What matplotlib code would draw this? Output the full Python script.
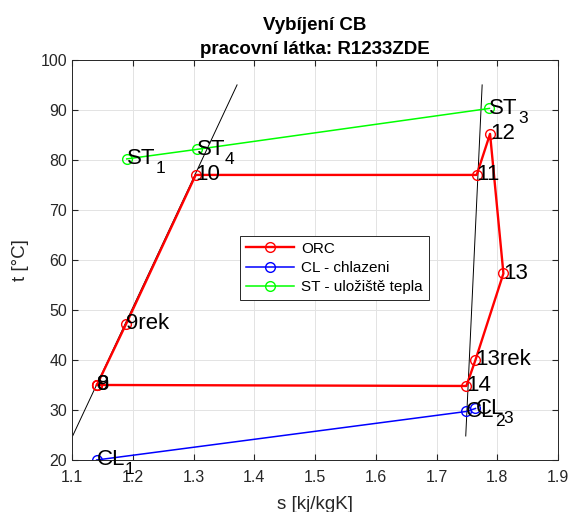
import matplotlib
matplotlib.use("Agg")
import matplotlib.pyplot as plt

plt.rcParams['font.family'] = ['Liberation Sans', 'DejaVu Sans']

# ORC cycle points 8 -> 9 -> 9rek -> 10 -> 11 -> 12 -> 13 -> 13rek -> 14 -> 8
orc_s = [1.141, 1.141, 1.189, 1.3036, 1.766, 1.788, 1.810, 1.764, 1.749, 1.141]
orc_t = [35.0, 35.0, 47.2, 77.0, 77.0, 85.2, 57.3, 40.0, 34.8, 35.0]
orc_lab = ['8', '9', '9rek', '10', '11', '12', '13', '13rek', '14']

# cooling
cl_s = [1.1406, 1.749, 1.764]
cl_t = [20.0, 29.7, 30.3]
cl_sub = ['1', '2', '3']

# heat storage
st_s = [1.190, 1.305, 1.787]
st_t = [80.2, 82.1, 90.3]
st_sub = ['1', '4', '3']

# saturation lines
liq_s = [1.101, 1.3716]
liq_t = [24.8, 95.0]
vap_s = [1.748, 1.775]
vap_t = [24.8, 95.0]

fig = plt.figure(figsize=(5.73, 5.12), dpi=100)
ax = fig.add_axes([0.1257, 0.1016, 0.8483, 0.7814])

ax.plot(liq_s, liq_t, color='black', lw=0.7)
ax.plot(vap_s, vap_t, color='black', lw=0.7)

ax.plot(orc_s, orc_t, '-o', color='red', lw=1.7, mfc='none', ms=7, mew=1.0, label='ORC')
ax.plot(cl_s, cl_t, '-o', color='blue', lw=1.1, mfc='none', ms=7, mew=1.0, label='CL - chlazeni')
ax.plot(st_s, st_t, '-o', color='#00ff00', lw=1.1, mfc='none', ms=7, mew=1.0, label='ST - uložiště tepla')

LAB = 16
SUB = 12.5
for s, t, lab in zip(orc_s, orc_t, orc_lab):
    ax.text(s, t, lab, fontsize=LAB, ha='left', va='center')

# base text + subscript (MATLAB tex style)
fig.canvas.draw()
renderer = fig.canvas.get_renderer()
for base, ss, ts, subs in [('CL', cl_s, cl_t, cl_sub), ('ST', st_s, st_t, st_sub)]:
    for s, t, sub in zip(ss, ts, subs):
        txt = ax.text(s, t, base, fontsize=LAB, ha='left', va='center')
        w = txt.get_window_extent(renderer).width * 72.0 / fig.dpi
        ax.annotate(sub, xy=(s, t), xytext=(w, -7), textcoords='offset points',
                    fontsize=SUB, ha='left', va='center')

ax.set_xlim(1.1, 1.9)
ax.set_ylim(20, 100)
ax.set_xticks([1.1, 1.2, 1.3, 1.4, 1.5, 1.6, 1.7, 1.8, 1.9])
ax.set_yticks(range(20, 101, 10))
ax.grid(True, color='#e3e3e3', lw=0.7)
ax.set_axisbelow(True)
ax.tick_params(direction='in', length=4, labelsize=11.5, colors='#262626', top=True, right=True)
ax.tick_params(axis='x', pad=7)
for sp in ax.spines.values():
    sp.set_color('#262626')
    sp.set_linewidth(0.7)

ax.set_xlabel('s [kj/kgK]', fontsize=13.5, color='#262626', labelpad=8)
ax.set_ylabel('t [°C]', fontsize=13.5, color='#262626', labelpad=8)
ax.set_title('Vybíjení CB\npracovní látka: R1233ZDE', fontsize=13.5, fontweight='bold',
             linespacing=1.6, pad=4)

leg = ax.legend(loc='upper left', bbox_to_anchor=(0.346, 0.561), fontsize=11,
                fancybox=False, edgecolor='#262626', framealpha=1, borderaxespad=0,
                borderpad=0.4, labelspacing=0.35, handlelength=3.1, handletextpad=0.5)
leg.get_frame().set_linewidth(0.7)

fig.savefig('out.png', dpi=100)
